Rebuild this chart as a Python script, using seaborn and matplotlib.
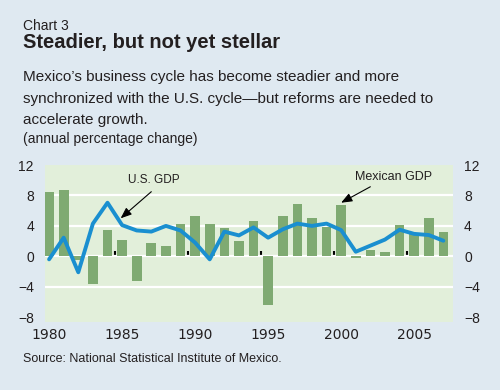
import matplotlib
matplotlib.use("Agg")
import matplotlib.pyplot as plt
import seaborn as sns

# данные
years = list(range(1980, 2008))
mexico_gdp = [8.5, 8.7, -0.5, -3.6, 3.5, 2.2, -3.2, 1.75, 1.3, 4.25, 5.3, 4.3, 3.7, 2.0,
              4.6, -6.4, 5.3, 6.9, 5.0, 3.9, 6.75, -0.2, 0.8, 0.6, 4.1, 2.9, 5.0, 3.2]
us_gdp = [-0.4, 2.45, -2.1, 4.3, 7.05, 4.1, 3.4, 3.25, 4.0, 3.4, 1.8, -0.4, 3.25, 2.75,
          3.8, 2.45, 3.55, 4.3, 4.0, 4.3, 3.45, 0.6, 1.4, 2.2, 3.5, 2.95, 2.8, 2.05]
y_ticks = [-8, -4, 0, 4, 8, 12]
grid_levels = [-4, 0, 4, 8]
year_ticks = [1980, 1985, 1990, 1995, 2000, 2005]

subtitle = ["Mexico\u2019s business cycle has become steadier and more",
            "synchronized with the U.S. cycle\u2014but reforms are needed to",
            "accelerate growth."]

fig_bg = "#dfe9f1"
plot_bg = "#e2efda"
bar_color = "#7faa72"
line_color = "#1a8fd0"
txt = "#231f20"

sns.set_theme(style="white")
plt.rcParams["font.family"] = ["Liberation Sans", "DejaVu Sans"]
plt.rcParams["text.color"] = txt

fig = plt.figure(figsize=(5, 3.9), dpi=100, facecolor=fig_bg)
ax = fig.add_axes([0.09, 0.1744, 0.816, 0.4023])
ax.set_facecolor(plot_bg)

for lv in grid_levels:
    ax.axhline(lv, color="white", lw=1.6, zorder=0.5)

sns.barplot(x=years, y=mexico_gdp, native_scale=True, width=0.66, color=bar_color,
            saturation=1, linewidth=0, ax=ax, zorder=2)
sns.lineplot(x=years, y=us_gdp, color=line_color, lw=2.8, ax=ax, zorder=3)

ax.set_xlim(1979.72, 2007.66)
ax.set_ylim(-8.64, 12.0)
ax.set_xlabel("")
ax.set_ylabel("")
ax.set_yticks(y_ticks)
ax.set_yticklabels([f"{v:d}".replace("-", "\u2212") for v in y_ticks])
ax.set_xticks(year_ticks)
ax.set_xticklabels([str(y) for y in year_ticks], family="DejaVu Sans", fontsize=10)
ax.tick_params(axis="y", length=0, pad=8, labelleft=True, labelright=True,
               labelsize=10, labelcolor=txt)
ax.tick_params(axis="x", length=0, pad=4, labelcolor=txt)
for s in ax.spines.values():
    s.set_visible(False)

# маленькие черные засечки на нулевой линии
sec = ax.secondary_xaxis(0, transform=ax.transData)
sec.set_xticks([y - 0.5 for y in year_ticks[1:]])
sec.set_xticklabels([])
sec.tick_params(length=3.5, width=1.5, direction="in", color="black")
for s in sec.spines.values():
    s.set_visible(False)

arrow = dict(arrowstyle="-|>,head_length=0.55,head_width=0.22", color="black", lw=0.8,
             shrinkA=0, shrinkB=0)
ax.annotate("", xy=(1984.9, 5.0), xytext=(1987.0, 8.5), arrowprops=arrow, zorder=4)
ax.text(1987.2, 10.0, "U.S. GDP", ha="center", va="center", fontsize=8.5)
ax.annotate("", xy=(2000.0, 7.05), xytext=(2002.0, 9.15), arrowprops=arrow, zorder=4)
ax.text(2003.6, 10.4, "Mexican GDP", ha="center", va="center", fontsize=9)

# заголовки
fig.text(0.046, 1 - 30.5 / 390, "Chart 3", fontsize=10, va="baseline")
fig.text(0.046, 1 - 48.5 / 390, "Steadier, but not yet stellar", fontsize=14.5,
         fontweight="bold", va="baseline")
for i, line in enumerate(subtitle):
    fig.text(0.046, 1 - (81 + 21.7 * i) / 390, line, fontsize=11, va="baseline")
fig.text(0.046, 1 - 142.5 / 390, "(annual percentage change)", fontsize=10, va="baseline")
fig.text(0.046, 1 - 361.5 / 390, "Source: National Statistical Institute of Mexico.",
         fontsize=9, va="baseline")

fig.savefig("out.png", dpi=100, facecolor=fig_bg)
